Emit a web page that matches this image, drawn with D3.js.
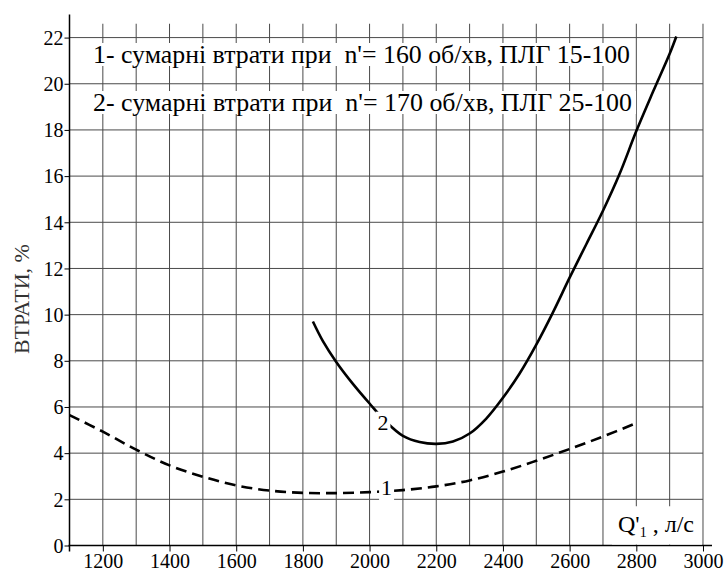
<!DOCTYPE html>
<html>
<head>
<meta charset="utf-8">
<script src="https://cdn.jsdelivr.net/npm/d3@7"></script>
<style>
  body { margin: 0; background: #fff; }
  svg { display: block; }
  text { font-family: "Liberation Serif", "Times New Roman", Times, Tinos, "Noto Serif", "DejaVu Serif", FreeSerif, "Nimbus Roman", serif; }
</style>
</head>
<body>
<div></div>
<script>
// data
var xTicks = [1200, 1400, 1600, 1800, 2000, 2200, 2400, 2600, 2800, 3000];
var yTicks = [0, 2, 4, 6, 8, 10, 12, 14, 16, 18, 20, 22];
var xGrid = [1200, 1300, 1400, 1500, 1600, 1700, 1800, 1900, 2000, 2100, 2200, 2300, 2400, 2500, 2600, 2700, 2800, 2900, 3000];
var yGrid = [2, 4, 6, 8, 10, 12, 14, 16, 18, 20, 22];

var curve1Q = [1100, 1200, 1300, 1400, 1500, 1600, 1700, 1800, 1900, 2000, 2100, 2200, 2300, 2400, 2500, 2600, 2700, 2800];
var curve1Loss = [5.65, 4.93, 4.15, 3.47, 2.98, 2.6, 2.38, 2.28, 2.27, 2.31, 2.4, 2.56, 2.82, 3.2, 3.67, 4.18, 4.72, 5.3];

var curve2Q = [1830, 1860, 1900, 1950, 2000, 2050, 2100, 2150, 2200, 2250, 2300, 2350, 2400, 2450, 2500, 2550, 2600, 2650, 2700, 2750, 2800, 2850, 2900, 2920];
var curve2Loss = [9.7, 8.85, 7.95, 7.0, 6.15, 5.35, 4.75, 4.48, 4.4, 4.5, 4.85, 5.5, 6.4, 7.45, 8.7, 10.1, 11.6, 13.05, 14.5, 16.1, 17.95, 19.65, 21.3, 22.05];

var legendLines = [
    "1- сумарні втрати при  n'= 160 об/хв, ПЛГ 15-100",
    "2- сумарні втрати при  n'= 170 об/хв, ПЛГ 25-100"
];

var width = 728;
var height = 572;
var gridColor = "#4a4a4a";

var svg = d3.select('div')
    .append('svg')
    .attr('width', width)
    .attr('height', height);

var x = d3.scaleLinear().domain([1100, 3027]).range([69.5, 712]);
var y = d3.scaleLinear().domain([0, 23]).range([545.5, 14.5]);

// vertical grid
var vgrid = svg.append('g');
vgrid.selectAll('line')
    .data(xGrid)
    .enter()
    .append('line')
    .attr('x1', d => x(d))
    .attr('x2', d => x(d))
    .attr('y1', y(0))
    .attr('y2', y(22.6))
    .attr('stroke', gridColor)
    .attr('stroke-width', 1);

// white boxes behind the legend, then horizontal grid, then legend text
var legendBoxes = svg.append('g');
var hgrid = svg.append('g');
var legend = svg.append('g');

hgrid.selectAll('line')
    .data(yGrid)
    .enter()
    .append('line')
    .attr('x1', x(1100))
    .attr('x2', x(3000))
    .attr('y1', d => y(d))
    .attr('y2', d => y(d))
    .attr('stroke', gridColor)
    .attr('stroke-width', 1);

var legendBaseline = [63, 111];
var legendWidth = [537, 539];
legendLines.forEach(function(t, i) {
    var txt = legend.append('text')
        .attr('x', 93)
        .attr('y', legendBaseline[i])
        .style('font-size', '25px')
        .style('white-space', 'pre')
        .attr('textLength', legendWidth[i])
        .attr('lengthAdjust', 'spacingAndGlyphs')
        .attr('fill', '#000')
        .text(t);
    var bb = txt.node().getBBox();
    legendBoxes.append('rect')
        .attr('x', bb.x - 4)
        .attr('y', bb.y + 2)
        .attr('width', bb.width + 8)
        .attr('height', bb.height - 4)
        .attr('fill', '#fff');
});

// axes
var xaxis = d3.axisBottom(x).tickValues(xTicks).tickSize(6).tickSizeOuter(0).tickFormat(d3.format('d'));
var yaxis = d3.axisLeft(y).tickValues(yTicks).tickSize(5).tickSizeOuter(0).tickFormat(d3.format('d'));

var gx = svg.append('g')
    .attr('transform', 'translate(0,' + y(0) + ')')
    .call(xaxis)
    .attr('font-family', null);
gx.select('.domain').remove();
gx.selectAll('line').attr('stroke', '#000');
gx.selectAll('text')
    .attr('y', 22)
    .attr('dy', 0)
    .style('font-size', '20px')
    .attr('fill', '#000');

var gy = svg.append('g')
    .attr('transform', 'translate(' + x(1100) + ',0)')
    .call(yaxis)
    .attr('font-family', null);
gy.select('.domain').remove();
gy.selectAll('line').attr('stroke', '#000');
gy.selectAll('text')
    .attr('x', -6)
    .attr('dy', '0.34em')
    .style('font-size', '20px')
    .attr('fill', '#000');

svg.append('line')
    .attr('x1', x(1100) - 1)
    .attr('x2', x(3027))
    .attr('y1', y(0))
    .attr('y2', y(0))
    .attr('stroke', '#000')
    .attr('stroke-width', 1.5);
svg.append('line')
    .attr('x1', x(1100))
    .attr('x2', x(1100))
    .attr('y1', y(0) + 6)
    .attr('y2', y(23))
    .attr('stroke', '#000')
    .attr('stroke-width', 1.5);

// curves
var line = d3.line()
    .x(d => x(d[0]))
    .y(d => y(d[1]))
    .curve(d3.curveCatmullRom.alpha(0.5));

svg.append('path')
    .attr('d', line(d3.zip(curve1Q, curve1Loss)))
    .attr('fill', 'none')
    .attr('stroke', '#000')
    .attr('stroke-width', 2.6)
    .attr('stroke-dasharray', '11,6');

svg.append('path')
    .attr('d', line(d3.zip(curve2Q, curve2Loss)))
    .attr('fill', 'none')
    .attr('stroke', '#000')
    .attr('stroke-width', 2.6);

// curve numbers with white patch
function curveLabel(q, v, t) {
    var g = svg.append('g');
    var txt = g.append('text')
        .attr('x', x(q))
        .attr('y', y(v))
        .attr('text-anchor', 'middle')
        .attr('dy', '0.35em')
        .style('font-size', '22px')
        .text(t);
    var bb = txt.node().getBBox();
    g.insert('rect', 'text')
        .attr('x', bb.x - 2)
        .attr('y', bb.y + 2)
        .attr('width', bb.width + 4)
        .attr('height', bb.height - 2)
        .attr('fill', '#fff');
}
curveLabel(2051, 2.5, '1');
curveLabel(2040, 5.35, '2');

// axis titles
var qLabel = svg.append('g');
qLabel.append('rect')
    .attr('x', 612)
    .attr('y', y(1.7))
    .attr('width', 90)
    .attr('height', y(0) - y(1.7) - 1)
    .attr('fill', '#fff');
var qt = qLabel.append('text')
    .attr('x', 618)
    .attr('y', 532)
    .style('font-size', '24px')
    .style('white-space', 'pre');
qt.append('tspan').text("Q'");
qt.append('tspan').attr('dy', 5).style('font-size', '14px').text('1');
qt.append('tspan').attr('dy', -5).text(' , л/с');

svg.append('text')
    .attr('transform', 'translate(29,299) rotate(-90)')
    .attr('text-anchor', 'middle')
    .style('font-size', '22px')
    .attr('fill', '#333')
    .text('ВТРАТИ, %');
</script>
</body>
</html>
